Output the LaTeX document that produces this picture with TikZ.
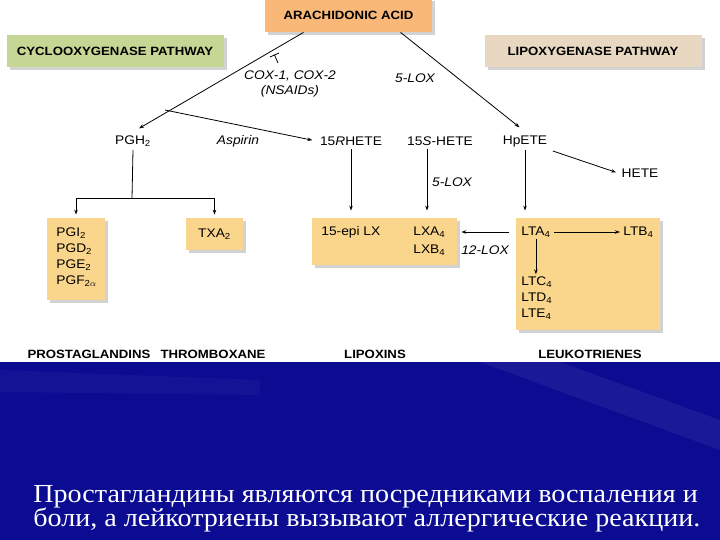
\documentclass[tikz,border=0pt]{standalone}
\usepackage{fontspec}
\setmainfont{Liberation Serif}
\setsansfont{Liberation Sans}
\newfontfamily\diagsans[FakeStretch=1.1]{Liberation Sans}
\newfontfamily\captserif[FakeStretch=1.08]{Liberation Serif}
\usetikzlibrary{arrows.meta, shadows}

\definecolor{acidorange}{RGB}{249,184,120}
\definecolor{coxgreen}{RGB}{198,214,148}
\definecolor{loxtan}{RGB}{232,216,194}
\definecolor{prodyellow}{RGB}{250,214,140}
\definecolor{slideblue}{RGB}{12,12,146}

\begin{document}
\begin{tikzpicture}[x=1pt, y=-1pt, >={Stealth[length=5pt,width=3.5pt]}, line width=0.8pt,
    font=\diagsans\fontsize{12.5}{13}\selectfont,
    pathbox/.style={fill=#1, inner sep=0pt, minimum height=32pt,
      drop shadow={shadow xshift=3pt, shadow yshift=-3pt, opacity=0.35},
      font=\diagsans\bfseries\fontsize{12}{13}\selectfont},
    prodbox/.style={fill=prodyellow, inner sep=0pt,
      drop shadow={shadow xshift=3pt, shadow yshift=-3pt, opacity=0.35}},
    enz/.style={font=\diagsans\itshape\fontsize{12.5}{13}\selectfont},
    item/.style={anchor=west, inner sep=1pt},
    classlbl/.style={font=\diagsans\bfseries\fontsize{12}{13}\selectfont},
    capt/.style={text=white, anchor=base west, inner sep=0pt,
      font=\captserif\fontsize{26}{28}\selectfont}]
  \useasboundingbox (0,0) rectangle (720,540);
  % Slide background
  \fill[white] (0,0) rectangle (720,362);
  \fill[slideblue] (0,362) rectangle (720,540);
  \fill[white, opacity=0.06] (480,362) -- (560,362) -- (720,420) -- (720,450) -- cycle;
  \fill[white, opacity=0.03] (0,370) -- (260,380) -- (260,395) -- (0,392) -- cycle;

  % Pathway headers
  \node[pathbox=acidorange, minimum width=167pt, minimum height=34pt] (arach) at (348.5,15) {ARACHIDONIC ACID};
  \node[pathbox=coxgreen, minimum width=217pt] (coxpath) at (115,51) {CYCLOOXYGENASE PATHWAY};
  \node[pathbox=loxtan, minimum width=217pt] (loxpath) at (593,51) {LIPOXYGENASE PATHWAY};

  % Intermediates
  \node (pgh) at (133,141) {PGH\textsubscript{2}};
  \node (rhete) at (351,141) {15\textit{R}HETE};
  \node (shete) at (440,141) {15\textit{S}-HETE};
  \node (hpete) at (525,141) {HpETE};
  \node (hete) at (640,173) {HETE};

  % Enzyme labels
  \node[enz] (cox) at (290,76) {COX-1, COX-2};
  \node[enz] (nsaid) at (290,91) {(NSAIDs)};
  \node[enz] (loxa) at (415,78) {5-LOX};
  \node[enz] (aspirin) at (238,141) {Aspirin};
  \node[enz] (loxb) at (452,182) {5-LOX};
  \node[enz] (loxc) at (485,250) {12-LOX};

  % Product boxes
  \node[prodbox, minimum width=58pt, minimum height=82pt] (pgbox) at (76,259) {};
  \node[prodbox, minimum width=57pt, minimum height=32pt] (txbox) at (214.5,234) {TXA\textsubscript{2}};
  \node[prodbox, minimum width=145pt, minimum height=47pt] (lxbox) at (384.5,241.5) {};
  \node[prodbox, minimum width=144pt, minimum height=112pt] (ltbox) at (588,274) {};
  \foreach \nm/\yy/\txt in {pgi/233/{PGI\textsubscript{2}}, pgd/249/{PGD\textsubscript{2}},
      pge/265/{PGE\textsubscript{2}}, pgf/281/{PGF\textsubscript{2$\alpha$}}} {
    \node[item] (\nm) at (55,\yy) {\txt};
  }
  \node[item] (epilx) at (320,232) {15-epi LX};
  \node[item] (lxa) at (412,232) {LXA\textsubscript{4}};
  \node[item] (lxb) at (412,250) {LXB\textsubscript{4}};
  \node[item] (lta) at (520,232) {LTA\textsubscript{4}};
  \node[item] (ltb) at (622,232) {LTB\textsubscript{4}};
  \foreach \nm/\yy/\ch in {ltc/282/C, ltd/298/D, lte/314/E} {
    \node[item] (\nm) at (520,\yy) {LT\ch\textsubscript{4}};
  }

  % Class labels
  \node[classlbl] (prost) at (89,354) {PROSTAGLANDINS};
  \node[classlbl] (thromb) at (213,354) {THROMBOXANE};
  \node[classlbl] (lipox) at (375,354) {LIPOXINS};
  \node[classlbl] (leuko) at (590,354) {LEUKOTRIENES};

  % Connectors
  \coordinate (coxstart) at ([xshift=-45pt]arach.south);
  \coordinate (loxstart) at ([xshift=52pt]arach.south);
  \coordinate (asp) at (165,110);
  \coordinate (split) at (132,198);
  \draw[->, shorten >=7pt] (coxstart) -- (pgh.north);
  \draw[->, shorten >=4pt] (asp) -- (rhete.west);
  \draw[->, shorten >=7pt] (loxstart) -- (hpete.north);
  \draw[->, shorten <=2pt, shorten >=2pt] (hpete.south east) -- (hete.west);
  % inhibition mark
  \draw (270,57) -- (279,53) (274.5,55) -- (278,63);
  % cyclooxygenase branch
  \draw (pgh.south) -- (split);
  \draw[->, shorten >=3pt] (split) -| (pgbox.north);
  \draw[->, shorten >=3pt] (split) -| (txbox.north);
  % lipoxygenase branch
  \draw[->, shorten >=7pt] (rhete.south) -- (rhete.south |- lxbox.north);
  \draw[->, shorten >=7pt] ([xshift=-13pt]shete.south) -- ([xshift=-13pt]shete.south |- lxbox.north);
  \draw[->, shorten >=7pt] (hpete.south) -- (hpete.south |- ltbox.north);
  \draw[->, shorten <=7pt, shorten >=4pt] (ltbox.west |- lta) -- (lxbox.east |- lta);
  \draw[->, shorten <=2pt, shorten >=2pt] (lta.east) -- (ltb.west);
  \draw[->, shorten >=1pt] (lta.south) -- (lta.south |- ltc.north);

  % Caption
  \node[capt] (capa) at (33,502) {Простагландины являются посредниками воспаления и};
  \node[capt] (capb) at (33,526) {боли, а лейкотриены вызывают аллергические реакции.};
\end{tikzpicture}
\end{document}
